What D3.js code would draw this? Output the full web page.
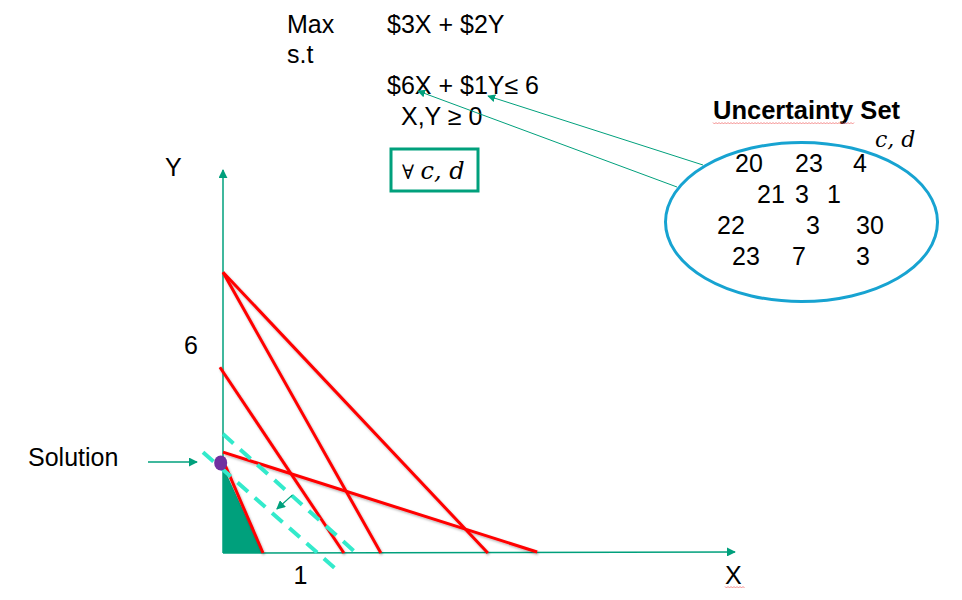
<!DOCTYPE html>
<html>
<head>
<meta charset="utf-8">
<script src="https://cdn.jsdelivr.net/npm/d3@7"></script>
<style>
  body { margin: 0; background: #fff; }
  svg { display: block; font-family: Arial, "Liberation Sans", sans-serif; }
</style>
</head>
<body>
<svg id="chart" width="962" height="600"></svg>
<script>
// values (chart units)
var constraintLines = [
  { x1: 0.00, y1: 8.10, x2: 3.44, y2: 0.00 },
  { x1: 0.00, y1: 8.10, x2: 2.05, y2: 0.00 },
  { x1: -0.04, y1: 5.36, x2: 1.57, y2: 0.00 },
  { x1: 0.00, y1: 2.91, x2: 4.08, y2: 0.03 },
  { x1: 0.03, y1: 2.52, x2: 0.52, y2: 0.00 }
];
var objectiveLines = [
  { x1: -0.26, y1: 2.91, x2: 1.48, y2: -0.49 },
  { x1: 0.00, y1: 3.43, x2: 1.73, y2: 0.00 }
];
var feasibleRegion = [[0, 2.50], [0.52, 0], [0, 0]];
var solution = { x: -0.03, y: 2.60 };
var objArrow = { x1: 0.90, y1: 1.67, x2: 0.70, y2: 1.27 };
var xTicks = [1];
var yTicks = [6];
var formulaLines = ["$3X + $2Y", "$6X + $1Y\u2264 6", "X,Y \u2265 0"];
var uncertaintyRows = [
  ["20", "23", "4"],
  ["21", "3", "1"],
  ["22", "3", "30"],
  ["23", "7", "3"]
];

var teal = "#00a07c";
var svg = d3.select("#chart");

var x = d3.scaleLinear().domain([0, 6.65]).range([223, 735]);
var y = d3.scaleLinear().domain([0, 11.05]).range([553, 170]);

var defs = svg.append("defs");
defs.append("marker")
    .attr("id", "arrow")
    .attr("viewBox", "0 0 10 10")
    .attr("refX", 9).attr("refY", 5)
    .attr("markerWidth", 9).attr("markerHeight", 9)
    .attr("markerUnits", "userSpaceOnUse")
    .attr("orient", "auto")
  .append("path")
    .attr("d", "M0,0L10,5L0,10z")
    .attr("fill", teal);
defs.append("marker")
    .attr("id", "arrowSmall")
    .attr("viewBox", "0 0 10 10")
    .attr("refX", 9).attr("refY", 5)
    .attr("markerWidth", 8).attr("markerHeight", 8)
    .attr("markerUnits", "userSpaceOnUse")
    .attr("orient", "auto")
  .append("path")
    .attr("d", "M0,0L10,5L0,10z")
    .attr("fill", teal);
var shadow = defs.append("filter").attr("id", "shadow")
    .attr("x", "-10%").attr("y", "-10%").attr("width", "120%").attr("height", "120%");
shadow.append("feDropShadow")
    .attr("dx", 1).attr("dy", 1.5).attr("stdDeviation", 1)
    .attr("flood-color", "#000").attr("flood-opacity", 0.3);

//-------------------------------
// plot area

svg.append("path")
    .datum(feasibleRegion)
    .attr("d", d3.line().x(function(d) { return x(d[0]); }).y(function(d) { return y(d[1]); }))
    .attr("fill", teal);

// axes (arrowed lines + tick labels from d3.axis)
svg.append("line")
    .attr("x1", x(0)).attr("y1", y(0)).attr("x2", x(0)).attr("y2", y(11.05))
    .attr("stroke", teal).attr("stroke-width", 1.5)
    .attr("marker-end", "url(#arrow)");
svg.append("line")
    .attr("x1", x(0)).attr("y1", y(0)).attr("x2", x(6.65)).attr("y2", y(0.03))
    .attr("stroke", teal).attr("stroke-width", 1.5)
    .attr("marker-end", "url(#arrow)");

var xAxis = svg.append("g")
    .attr("transform", "translate(0," + y(0) + ")")
    .call(d3.axisBottom(x).tickValues(xTicks).tickFormat(d3.format("d")).tickSize(0).tickPadding(13));
var yAxis = svg.append("g")
    .attr("transform", "translate(" + x(0) + ",0)")
    .call(d3.axisLeft(y).tickValues(yTicks).tickFormat(d3.format("d")).tickSize(0).tickPadding(25));
[xAxis, yAxis].forEach(function(g) {
  g.select(".domain").remove();
  g.selectAll("text")
      .attr("font-family", "Arial, 'Liberation Sans', sans-serif")
      .attr("font-size", 25)
      .attr("fill", "#000");
});

svg.append("g")
    .attr("filter", "url(#shadow)")
  .selectAll("line")
    .data(constraintLines)
  .enter().append("line")
    .attr("x1", function(d) { return x(d.x1); })
    .attr("y1", function(d) { return y(d.y1); })
    .attr("x2", function(d) { return x(d.x2); })
    .attr("y2", function(d) { return y(d.y2); })
    .attr("stroke", "#ff0000")
    .attr("stroke-width", 3);

svg.append("g").selectAll("line")
    .data(objectiveLines)
  .enter().append("line")
    .attr("x1", function(d) { return x(d.x1); })
    .attr("y1", function(d) { return y(d.y1); })
    .attr("x2", function(d) { return x(d.x2); })
    .attr("y2", function(d) { return y(d.y2); })
    .attr("stroke", "#33eacb")
    .attr("stroke-width", 4)
    .attr("stroke-dasharray", "14,9");

svg.append("line")
    .attr("x1", x(objArrow.x1)).attr("y1", y(objArrow.y1))
    .attr("x2", x(objArrow.x2)).attr("y2", y(objArrow.y2))
    .attr("stroke", teal).attr("stroke-width", 1.3)
    .attr("marker-end", "url(#arrow)");

svg.append("ellipse")
    .attr("cx", x(solution.x)).attr("cy", y(solution.y))
    .attr("rx", 6.5).attr("ry", 7.5)
    .attr("fill", "#7030a0");

// axis names
svg.append("text").attr("x", 165).attr("y", 176).attr("font-size", 25).text("Y");
svg.append("text").attr("x", 725).attr("y", 584).attr("font-size", 25).text("X");

svg.append("text").attr("x", 28).attr("y", 466).attr("font-size", 25).text("Solution");
svg.append("line")
    .attr("x1", 148).attr("y1", 462).attr("x2", 197).attr("y2", 462)
    .attr("stroke", teal).attr("stroke-width", 1.3)
    .attr("marker-end", "url(#arrow)");

//-------------------------------
// model text

svg.append("text").attr("x", 287).attr("y", 33).attr("font-size", 25).text("Max");
svg.append("text").attr("x", 287).attr("y", 63).attr("font-size", 25).text("s.t");
svg.selectAll(".formula")
    .data(formulaLines)
  .enter().append("text")
    .attr("class", "formula")
    .attr("x", function(d, i) { return i === 2 ? 401 : 387; })
    .attr("y", function(d, i) { return [33, 94, 125][i]; })
    .attr("font-size", 25)
    .text(function(d) { return d; });

svg.append("rect")
    .attr("x", 391).attr("y", 149).attr("width", 87).attr("height", 42)
    .attr("fill", "none").attr("stroke", teal).attr("stroke-width", 3);
var forall = svg.append("text")
    .attr("x", 402).attr("y", 179)
    .attr("font-family", "'DejaVu Serif', 'Liberation Serif', serif")
    .attr("font-size", 22);
forall.append("tspan").attr("font-size", 20).text("\u2200 ");
forall.append("tspan").attr("font-style", "italic").attr("font-size", 24).text("c, d");

//-------------------------------
// uncertainty set

svg.append("text")
    .attr("x", 713).attr("y", 119)
    .attr("font-size", 25.5).attr("font-weight", "bold")
    .text("Uncertainty Set");

svg.append("text")
    .attr("x", 875).attr("y", 147)
    .attr("font-family", "'DejaVu Serif', 'Liberation Serif', serif")
    .attr("font-style", "italic").attr("font-size", 22)
    .text("c, d");

// links from the set to the constraint coefficients
svg.append("line")
    .attr("x1", 703).attr("y1", 165).attr("x2", 488).attr("y2", 96)
    .attr("stroke", teal).attr("stroke-width", 1)
    .attr("marker-end", "url(#arrowSmall)");
svg.append("line")
    .attr("x1", 677).attr("y1", 187).attr("x2", 418).attr("y2", 91)
    .attr("stroke", teal).attr("stroke-width", 1)
    .attr("marker-end", "url(#arrowSmall)");

svg.append("ellipse")
    .attr("cx", 801.5).attr("cy", 222).attr("rx", 136).attr("ry", 79.5)
    .attr("fill", "#fff").attr("stroke", "#17a3d1").attr("stroke-width", 3);

var colX = [[735, 795, 853], [757, 795, 827], [717, 806, 856], [732, 792, 856]];
var rowY = [172, 203, 234, 265];
uncertaintyRows.forEach(function(row, r) {
  svg.append("g").selectAll("text")
      .data(row)
    .enter().append("text")
      .attr("x", function(d, c) { return colX[r][c]; })
      .attr("y", rowY[r])
      .attr("font-size", 25)
      .text(function(d) { return d; });
});

// spell-check squiggles
function squiggle(x0, x1, yy) {
  var pts = [];
  for (var px = x0, k = 0; px <= x1; px += 1.5, k++) pts.push([px, yy + (k % 2 ? 1 : -0.5)]);
  svg.append("path")
      .attr("d", d3.line()(pts))
      .attr("fill", "none").attr("stroke", "#f07070").attr("stroke-width", 0.8);
}
squiggle(713, 855, 123);
squiggle(725, 745, 587);
</script>
</body>
</html>
